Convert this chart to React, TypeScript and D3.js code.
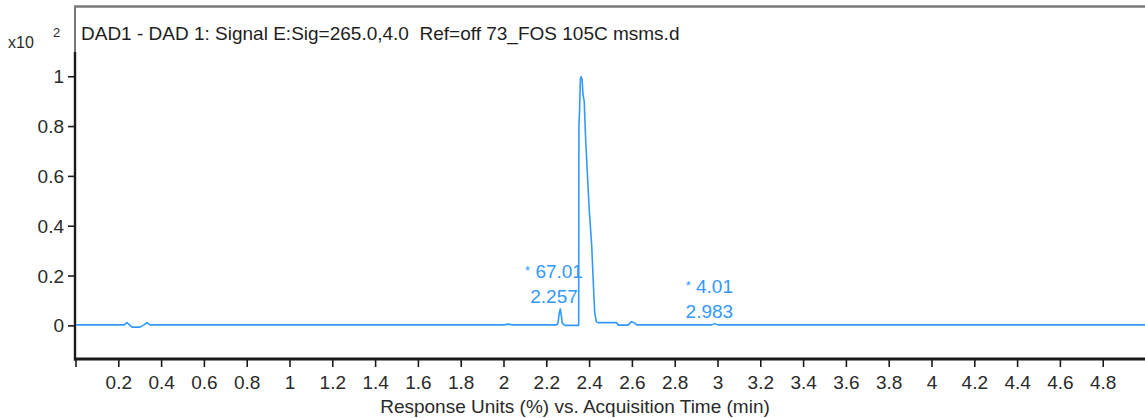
import React from 'react';
import * as d3 from 'd3';

// Chromatogram trace: acquisition time (min) and response (x10^2 %)
const times = [
  0.0, 0.225, 0.238, 0.25, 0.262, 0.299, 0.318, 0.331, 0.345, 0.86, 2.0, 2.02, 2.04,
  2.245, 2.252, 2.258, 2.263, 2.268, 2.272, 2.278, 2.285, 2.345, 2.349, 2.35, 2.353,
  2.357, 2.36, 2.365, 2.369, 2.375, 2.381, 2.389, 2.398, 2.41, 2.418, 2.424, 2.432,
  2.44, 2.525, 2.535, 2.58, 2.595, 2.61, 2.62, 2.78, 2.97, 2.985, 3.0, 5.0,
];
const signal = [
  0.004, 0.004, 0.013, 0.004, -0.005, -0.005, 0.004, 0.013, 0.004, 0.004, 0.004, 0.007, 0.004,
  0.004, 0.01, 0.05, 0.068, 0.04, 0.012, 0.006, 0.002, 0.002, 0.002, 0.8, 0.86,
  0.99, 1.0, 0.99, 0.93, 0.9, 0.76, 0.62, 0.47, 0.32, 0.16, 0.05, 0.016,
  0.013, 0.013, 0.003, 0.003, 0.017, 0.012, 0.004, 0.004, 0.004, 0.009, 0.004, 0.004,
];

const xTickValues = [0, 0.2, 0.4, 0.6, 0.8, 1, 1.2, 1.4, 1.6, 1.8, 2, 2.2, 2.4, 2.6, 2.8, 3, 3.2, 3.4, 3.6, 3.8, 4, 4.2, 4.4, 4.6, 4.8];
const xTickLabels = ['', '0.2', '0.4', '0.6', '0.8', '1', '1.2', '1.4', '1.6', '1.8', '2', '2.2', '2.4', '2.6', '2.8', '3', '3.2', '3.4', '3.6', '3.8', '4', '4.2', '4.4', '4.6', '4.8'];
const yTickValues = [0, 0.2, 0.4, 0.6, 0.8, 1];
const yTickLabels = ['0', '0.2', '0.4', '0.6', '0.8', '1'];

const peakTimes = [2.257, 2.983];
const peakHeights = [0.068, 0.009];
const peakAreas = ['67.01', '4.01'];
const peakRTLabels = ['2.257', '2.983'];

const title = 'DAD1 - DAD 1: Signal E:Sig=265.0,4.0  Ref=off 73_FOS 105C msms.d';
const xAxisTitle = 'Response Units (%) vs. Acquisition Time (min)';

const W = 1145;
const H = 418;
const FONT = '"Liberation Sans", Arial, Helvetica, sans-serif';
const BLUE = '#3399ff';
const TEXT = '#2a2a2a';
const FS = 19;

export default function App() {
  const x = d3.scaleLinear().domain([0, 5]).range([76, 1146]);
  const y = d3.scaleLinear().domain([-0.133, 1.28]).range([359, 7]);
  const pts = times.map((t, i) => [t, signal[i]] as [number, number]);
  const line = d3.line<[number, number]>().x((d) => x(d[0])).y((d) => y(d[1]));
  const [x0, x1] = x.range();
  const [yb, yt] = y.range();

  return (
    <svg width={W} height={H} style={{ position: 'absolute', left: 0, top: 0, background: '#fff' }} fontFamily={FONT}>
      <defs>
        <clipPath id="plot">
          <rect x={x0} y={yt} width={x1 - x0} height={yb - yt} />
        </clipPath>
      </defs>
      <rect x={0} y={0} width={W} height={H} fill="#fff" />
      {/* frame top */}
      <line x1={x0 - 1} x2={W} y1={yt - 0.5} y2={yt - 0.5} stroke="#7a7a7a" strokeWidth={2.5} />
      {/* left axis */}
      <line x1={x0 - 1} x2={x0 - 1} y1={yt - 1.5} y2={y(1.1)} stroke="#777" strokeWidth={2} />
      <line x1={x0 - 1} x2={x0 - 1} y1={y(1.1)} y2={yb + 1.5} stroke="#1a1a1a" strokeWidth={2.4} />
      {/* bottom axis */}
      <line x1={x0 - 2} x2={W} y1={yb} y2={yb} stroke="#1a1a1a" strokeWidth={2.8} />

      {xTickValues.map((v, i) => (
        <g key={'xt' + i}>
          <line x1={x(v)} x2={x(v)} y1={yb + 1} y2={yb + 8} stroke="#1a1a1a" strokeWidth={1.6} />
          <text x={x(v)} y={yb + 30} textAnchor="middle" fontSize={FS} fill={TEXT}>
            {xTickLabels[i]}
          </text>
        </g>
      ))}
      {yTickValues.map((v, i) => (
        <g key={'yt' + i}>
          <line x1={x0 - 8} x2={x0 - 1} y1={y(v)} y2={y(v)} stroke="#1a1a1a" strokeWidth={1.6} />
          <text x={x0 - 12} y={y(v) + 6.5} textAnchor="end" fontSize={FS} fill={TEXT}>
            {yTickLabels[i]}
          </text>
        </g>
      ))}
      <text x={8} y={48} fontSize={16} fill={TEXT}>x10</text>
      <text x={53} y={37} fontSize={13} fill={TEXT}>2</text>

      <text x={81} y={39.5} fontSize={FS} fill="#1e1e1e" style={{ whiteSpace: 'pre' }}>
        {title}
      </text>
      <text x={575} y={413} textAnchor="middle" fontSize={FS} fill={TEXT}>
        {xAxisTitle}
      </text>

      <path d={line(pts) || ''} fill="none" stroke={BLUE} strokeWidth={1.6} clipPath="url(#plot)" strokeLinejoin="round" />

      {peakTimes.map((t, i) => (
        <g key={'pk' + i} fill={BLUE}>
          <text x={x(t) - 5} y={y(peakHeights[i]) - 6} textAnchor="middle" fontSize={FS}>
            {peakRTLabels[i]}
          </text>
          <text x={x(t) - 5} y={y(peakHeights[i]) - 31} textAnchor="middle" fontSize={FS}>
            <tspan fontSize={13} dy={-3}>*</tspan>
            <tspan dy={3}>{' ' + peakAreas[i]}</tspan>
          </text>
        </g>
      ))}
    </svg>
  );
}
